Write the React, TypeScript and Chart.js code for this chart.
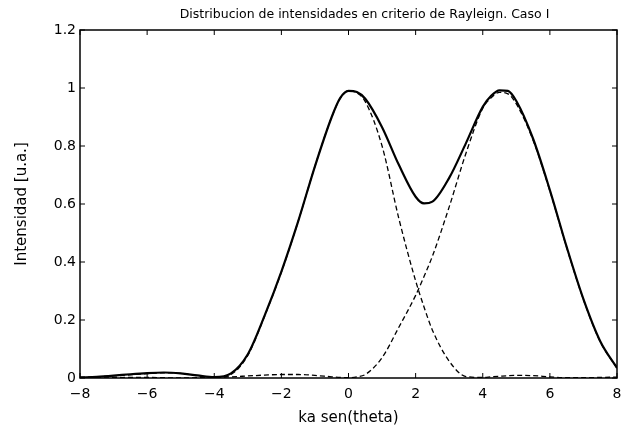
import React, { useEffect, useRef } from "react";
import { Chart, registerables } from "chart.js";
Chart.register(...registerables);

const titleText = "Distribucion de intensidades en criterio de Rayleign. Caso I";
const xTitle = "ka sen(theta)";
const yTitle = "Intensidad [u.a.]";

const xValues = [-8, -7.5, -7, -6.5, -6, -5.5, -5, -4.5, -4, -3.5, -3, -2.5, -2, -1.5, -1, -0.5, -0.25, 0, 0.25, 0.5, 1, 1.5, 2, 2.25, 2.5, 3, 3.5, 4, 4.25, 4.5, 4.75, 5, 5.5, 6, 6.5, 7, 7.5, 8];
const leftPattern = [0.002, 0.004, 0.007, 0.011, 0.015, 0.018, 0.016, 0.008, 0.001, 0.012, 0.078, 0.213, 0.365, 0.54, 0.73, 0.9, 0.963, 0.99, 0.983, 0.953, 0.8, 0.55, 0.335, 0.245, 0.165, 0.058, 0.005, 0.002, 0.004, 0.006, 0.008, 0.009, 0.008, 0.004, 0.001, 0.001, 0.002, 0.003];
const rightPattern = [0, 0, 0.001, 0.002, 0.002, 0.001, 0, 0.001, 0.002, 0.004, 0.007, 0.01, 0.012, 0.012, 0.009, 0.004, 0.002, 0.001, 0.004, 0.012, 0.07, 0.175, 0.285, 0.35, 0.42, 0.59, 0.775, 0.93, 0.966, 0.985, 0.98, 0.945, 0.82, 0.645, 0.45, 0.27, 0.125, 0.034];
const totalIntensity = [0.002, 0.004, 0.008, 0.013, 0.017, 0.019, 0.016, 0.009, 0.003, 0.016, 0.082, 0.215, 0.367, 0.54, 0.73, 0.9, 0.965, 0.99, 0.986, 0.963, 0.865, 0.735, 0.625, 0.602, 0.608, 0.69, 0.81, 0.935, 0.973, 0.992, 0.99, 0.955, 0.825, 0.648, 0.452, 0.272, 0.127, 0.035];

const xTickValues = [-8, -6, -4, -2, 0, 2, 4, 6, 8];
const yTickValues = [0, 0.2, 0.4, 0.6, 0.8, 1, 1.2];

const toPoints = (ys: number[]) => xValues.map((x, i) => ({ x, y: ys[i] }));

const FONT = "'DejaVu Sans', sans-serif";

const frameTicks = {
  id: "frameTicks",
  afterDraw(chart: any) {
    const { ctx, chartArea } = chart;
    const { left, right, top, bottom } = chartArea;
    const xs = chart.scales.x;
    const ys = chart.scales.y;
    const len = 5;
    ctx.save();
    ctx.strokeStyle = "#000";
    ctx.lineWidth = 1.5;
    ctx.strokeRect(left, top, right - left, bottom - top);
    ctx.lineWidth = 1;
    ctx.beginPath();
    xTickValues.forEach((v) => {
      const px = xs.getPixelForValue(v);
      ctx.moveTo(px, bottom);
      ctx.lineTo(px, bottom - len);
      ctx.moveTo(px, top);
      ctx.lineTo(px, top + len);
    });
    yTickValues.forEach((v) => {
      const py = ys.getPixelForValue(v);
      ctx.moveTo(left, py);
      ctx.lineTo(left + len, py);
      ctx.moveTo(right, py);
      ctx.lineTo(right - len, py);
    });
    ctx.stroke();
    // title, slightly right of the plot centre as in the original figure
    ctx.fillStyle = "#000";
    ctx.font = "12.5px " + FONT;
    ctx.textAlign = "center";
    ctx.textBaseline = "middle";
    ctx.fillText(titleText, (left + right) / 2 + 16, top / 2);
    ctx.restore();
  },
};

export default function App() {
  const ref = useRef<HTMLCanvasElement>(null);
  useEffect(() => {
    document.body.style.margin = "0";
    const canvas = ref.current;
    if (!canvas) return;
    const chart = new Chart(canvas, {
      type: "line",
      data: {
        datasets: [
          {
            label: "Suma",
            data: toPoints(totalIntensity),
            borderColor: "#000",
            borderWidth: 2.2,
            pointRadius: 0,
            cubicInterpolationMode: "monotone",
            fill: false,
          },
          {
            label: "Patron 1",
            data: toPoints(leftPattern),
            borderColor: "#000",
            borderWidth: 1.3,
            borderDash: [5, 3],
            pointRadius: 0,
            cubicInterpolationMode: "monotone",
            fill: false,
          },
          {
            label: "Patron 2",
            data: toPoints(rightPattern),
            borderColor: "#000",
            borderWidth: 1.3,
            borderDash: [5, 3],
            pointRadius: 0,
            cubicInterpolationMode: "monotone",
            fill: false,
          },
        ],
      },
      options: {
        animation: false,
        responsive: false,
        maintainAspectRatio: false,
        layout: { padding: { left: 0, right: 13, top: 30, bottom: 0 } },
        plugins: {
          legend: { display: false },
          tooltip: { enabled: false },
          title: { display: false },
        },
        scales: {
          x: {
            type: "linear",
            min: -8,
            max: 8,
            afterFit: (s: any) => { s.height = 60; },
            afterBuildTicks: (s: any) => { s.ticks = xTickValues.map((v) => ({ value: v })); },
            grid: { display: false, drawTicks: false },
            border: { display: false },
            ticks: {
              color: "#000",
              padding: 8,
              maxRotation: 0,
              font: { family: FONT, size: 14 },
              callback: (v: any) => (Number(v) < 0 ? "\u2212" + Math.abs(Number(v)) : String(v)),
            },
            title: {
              display: true,
              text: xTitle,
              color: "#000",
              font: { family: FONT, size: 15 },
              padding: { top: 0, bottom: 11 },
            },
          },
          y: {
            min: 0,
            max: 1.2,
            afterFit: (s: any) => { s.width = 80; },
            afterBuildTicks: (s: any) => { s.ticks = yTickValues.map((v) => ({ value: v })); },
            grid: { display: false, drawTicks: false },
            border: { display: false },
            ticks: {
              color: "#000",
              padding: 4,
              font: { family: FONT, size: 14 },
              callback: (v: any) => String(Math.round(Number(v) * 10) / 10),
            },
            title: {
              display: true,
              text: yTitle,
              color: "#000",
              font: { family: FONT, size: 15 },
              padding: { top: 13, bottom: 0 },
            },
          },
        },
      },
      plugins: [frameTicks],
    } as any);
    return () => chart.destroy();
  }, []);
  return <canvas ref={ref} width={630} height={438} style={{ display: "block" }} />;
}
